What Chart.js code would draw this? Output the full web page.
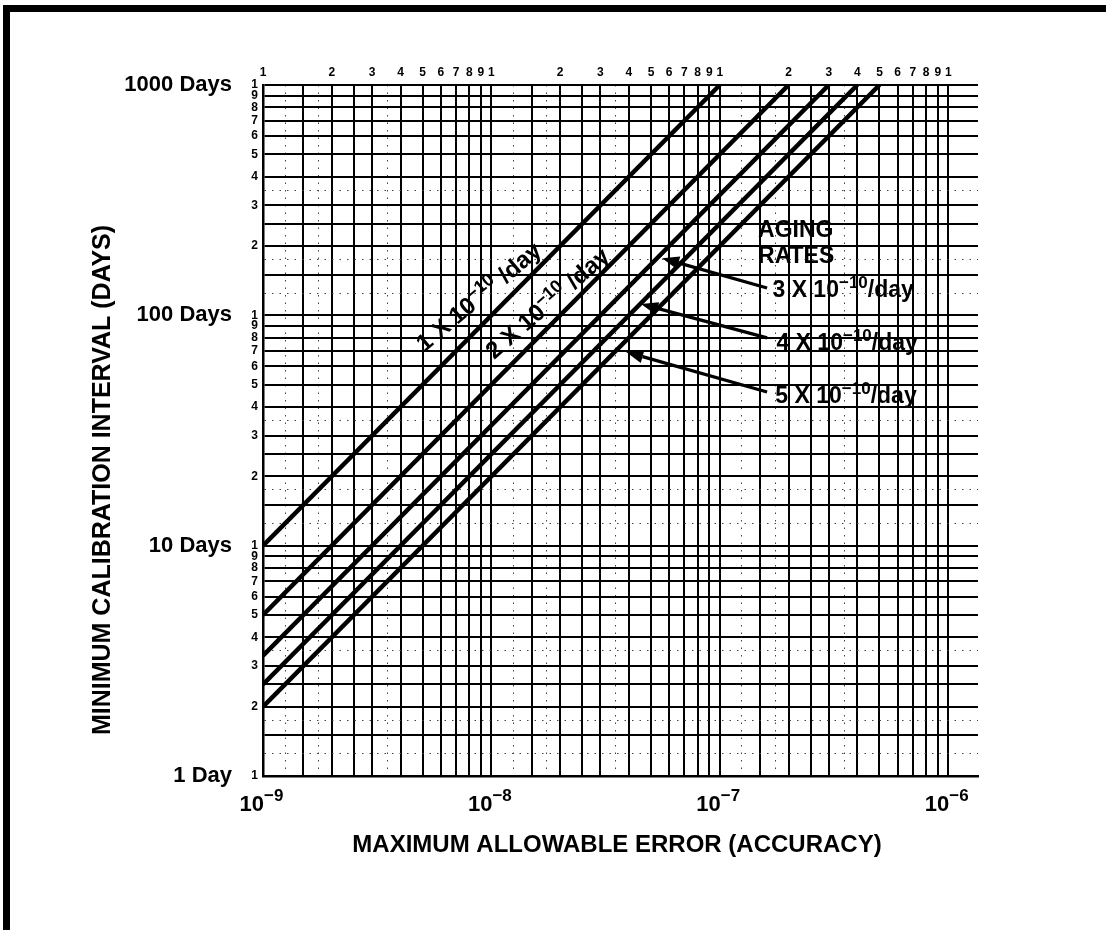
<!DOCTYPE html>
<html><head><meta charset="utf-8">
<script src="https://cdn.jsdelivr.net/npm/chart.js@4.4.1/dist/chart.umd.min.js"></script>
<style>
html,body{margin:0;padding:0;background:#fff;}
#wrap{position:relative;width:1106px;height:930px;overflow:hidden;background:#fff;}
#frameTop{position:absolute;left:3px;top:5px;width:1103px;height:7px;background:#000;}
#frameLeft{position:absolute;left:3px;top:5px;width:7px;height:925px;background:#000;}
canvas{position:absolute;left:0;top:0;}
</style></head><body>
<div id="wrap"><canvas id="c" width="1106" height="930"></canvas><div id="frameTop"></div><div id="frameLeft"></div></div>
<script>
const FONT = '"Liberation Sans", Arial, Helvetica, sans-serif';

// ---- data ----
const rateNames = ['1 X 10⁻¹⁰/day', '2 X 10⁻¹⁰/day', '3 X 10⁻¹⁰/day', '4 X 10⁻¹⁰/day', '5 X 10⁻¹⁰/day'];
const rate1Error = [1e-9, 1e-7];  const rate1Days = [10, 1000];
const rate2Error = [1e-9, 2e-7];  const rate2Days = [5, 1000];
const rate3Error = [1e-9, 3e-7];  const rate3Days = [3.33, 1000];
const rate4Error = [1e-9, 4e-7];  const rate4Days = [2.5, 1000];
const rate5Error = [1e-9, 5e-7];  const rate5Days = [2, 1000];

// ---- axes / ticks ----
const xDecades = [1e-9, 1e-8, 1e-7];
const xEnd = 1e-6;
const xAxisMin = 1e-9;
const xAxisMax = 1.35e-6;
const xDecadeExponents = ['−9', '−8', '−7', '−6'];
const yDecades = [1, 10, 100];
const yEnd = 1000;
const yDecadeLabels = ['1 Day', '10 Days', '100 Days', '1000 Days'];
const gridMultipliers = [1, 1.5, 2, 2.5, 3, 4, 5, 6, 7, 8, 9];
const dottedMultipliers = [1.25, 1.75, 3.5];
const xTitle = 'MAXIMUM ALLOWABLE ERROR (ACCURACY)';
const yTitle = 'MINIMUM CALIBRATION INTERVAL (DAYS)';

// ---- annotations (data coordinates) ----
const slopeLabelBase = ['1 X 10', '2 X 10'];
const slopeLabelAt = [[5.1e-9, 69], [1.03e-8, 64]];
const slopeLabelAngle = [-40, -41];
const agingTitle = ['AGING', 'RATES'];
const agingTitleAt = [[1.47e-7, 219], [1.47e-7, 169]];
const rateLabelBase = ['3 X 10', '4 X 10', '5 X 10'];
const rateLabelAt = [[1.70e-7, 120], [1.77e-7, 70.7], [1.75e-7, 41.6]];
const arrowTail = [[1.61e-7, 131.5], [1.61e-7, 79.8], [1.61e-7, 46.5]];
const arrowTip = [[5.59e-8, 177], [4.52e-8, 112], [3.89e-8, 69.3]];
const supText = '−10';

function mkTicks(decades, end) {
  const t = [];
  for (const d of decades) {
    for (const m of gridMultipliers) t.push({value: d * m, mult: m, dotted: false});
    for (const m of dottedMultipliers) t.push({value: d * m, mult: m, dotted: true});
  }
  t.push({value: end, mult: 1, dotted: false});
  t.sort((a, b) => a.value - b.value);
  return t;
}
const smallLabel = tk => (tk && !tk.dotted && Number.isInteger(tk.mult)) ? String(tk.mult) : '';
const gridWidth = c => (c.tick && c.tick.dotted) ? 1 : 2;
const gridColor = c => (c.tick && c.tick.dotted) ? '#444' : '#000';
const gridDash = c => (c.tick && c.tick.dotted) ? [1.5, 6] : [];

function series(xs, ys) { return xs.map((v, i) => ({x: v, y: ys[i]})); }
const allSeries = [[rate1Error, rate1Days], [rate2Error, rate2Days], [rate3Error, rate3Days], [rate4Error, rate4Days], [rate5Error, rate5Days]];

function drawParts(ctx, parts, x, y, f, fs, rise) {
  let cx = x;
  for (const p of parts) {
    ctx.font = 'bold ' + (p.sup ? fs : f) + 'px ' + FONT;
    ctx.fillText(p.t, cx, p.sup ? y - rise : y);
    cx += ctx.measureText(p.t).width;
  }
}
function arrow(ctx, x0, y0, x1, y1) {
  const a = Math.atan2(y1 - y0, x1 - x0), L = 17, W = 6.5;
  const bx = x1 - L * Math.cos(a), by = y1 - L * Math.sin(a);
  ctx.lineWidth = 3.2;
  ctx.beginPath(); ctx.moveTo(x0, y0); ctx.lineTo(bx, by); ctx.stroke();
  ctx.beginPath(); ctx.moveTo(x1, y1);
  ctx.lineTo(bx + W * Math.sin(a), by - W * Math.cos(a));
  ctx.lineTo(bx - W * Math.sin(a), by + W * Math.cos(a));
  ctx.closePath(); ctx.fill();
}

const annot = {
  id: 'annot',
  afterDraw(chart) {
    const {ctx, scales: {x, y}} = chart;
    const P = (p) => [x.getPixelForValue(p[0]), y.getPixelForValue(p[1])];
    ctx.save();
    ctx.fillStyle = '#000'; ctx.strokeStyle = '#000';
    ctx.textBaseline = 'alphabetic'; ctx.textAlign = 'left';
    slopeLabelBase.forEach((t, i) => {
      const [px, py] = P(slopeLabelAt[i]);
      ctx.save();
      ctx.translate(px, py);
      ctx.rotate(slopeLabelAngle[i] * Math.PI / 180);
      drawParts(ctx, [{t: t}, {t: supText, sup: true}, {t: ' /day'}], 0, 0, 24, 18, 9);
      ctx.restore();
    });
    agingTitle.forEach((t, i) => {
      const [px, py] = P(agingTitleAt[i]);
      ctx.font = 'bold 23px ' + FONT;
      ctx.fillText(t, px, py);
    });
    rateLabelBase.forEach((t, i) => {
      const [px, py] = P(rateLabelAt[i]);
      drawParts(ctx, [{t: t}, {t: supText, sup: true}, {t: '/day'}], px, py, 23, 17, 9);
      const [tx, ty] = P(arrowTail[i]);
      const [hx, hy] = P(arrowTip[i]);
      arrow(ctx, tx, ty, hx, hy);
    });
    [...xDecades, xEnd].forEach((v, i) => {
      const px = x.getPixelForValue(v);
      ctx.font = 'bold 22px ' + FONT;
      ctx.textAlign = 'right';
      ctx.fillText('10', px + 1, 811);
      ctx.textAlign = 'left';
      ctx.font = 'bold 17px ' + FONT;
      ctx.fillText(xDecadeExponents[i], px + 1, 801);
    });
    ctx.font = 'bold 24px ' + FONT;
    ctx.textAlign = 'center';
    ctx.textBaseline = 'middle';
    ctx.fillText(xTitle, 617, 845);
    ctx.save();
    ctx.translate(103, 480);
    ctx.rotate(-Math.PI / 2);
    ctx.font = 'bold 25px ' + FONT;
    ctx.fillText(yTitle, 0, 0);
    ctx.restore();
    ctx.restore();
  }
};

new Chart(document.getElementById('c'), {
  type: 'line',
  data: {
    datasets: allSeries.map((s, i) => ({
      label: rateNames[i],
      data: series(s[0], s[1]),
      borderColor: '#000', backgroundColor: '#000', borderWidth: 4.5,
      pointRadius: 0, tension: 0, fill: false, borderCapStyle: 'butt'
    }))
  },
  options: {
    responsive: false, animation: false, devicePixelRatio: 1,
    layout: {padding: {left: 0, right: 128, top: 45, bottom: 0}},
    plugins: {legend: {display: false}, tooltip: {enabled: false}},
    scales: {
      x: {
        type: 'logarithmic', position: 'bottom', min: xAxisMin, max: xAxisMax, bounds: 'data',
        afterBuildTicks: s => { s.ticks = mkTicks(xDecades, xEnd); },
        afterFit: s => { s.height = 154; },
        ticks: {display: false, autoSkip: false},
        grid: {color: gridColor, lineWidth: gridWidth, drawTicks: false},
        border: {display: true, color: '#000', width: 2.5, dash: gridDash}
      },
      x2: {
        type: 'logarithmic', position: 'top', min: xAxisMin, max: xAxisMax, bounds: 'data',
        afterBuildTicks: s => { s.ticks = mkTicks(xDecades, xEnd); },
        afterFit: s => { s.height = 40; },
        grid: {display: false, drawTicks: false},
        border: {display: false},
        ticks: {autoSkip: false, maxRotation: 0, minRotation: 0, padding: 5, color: '#000',
          font: {family: FONT, size: 12, weight: 'bold'},
          callback: (v, i, ts) => smallLabel(ts[i])}
      },
      y: {
        type: 'logarithmic', position: 'left', min: 1, max: 1000, bounds: 'data', weight: 0,
        afterBuildTicks: s => { s.ticks = mkTicks(yDecades, yEnd); },
        afterFit: s => { s.width = 27; },
        grid: {color: gridColor, lineWidth: gridWidth, drawTicks: false},
        border: {display: true, color: '#000', width: 2.5, dash: gridDash},
        ticks: {autoSkip: false, padding: 5, color: '#000',
          font: {family: FONT, size: 12, weight: 'bold'},
          callback: (v, i, ts) => smallLabel(ts[i])}
      },
      y2: {
        type: 'logarithmic', position: 'left', min: 1, max: 1000, bounds: 'data', weight: 1,
        afterBuildTicks: s => { s.ticks = mkTicks(yDecades, yEnd); },
        afterFit: s => { s.width = 236; },
        grid: {display: false, drawTicks: false},
        border: {display: false},
        ticks: {autoSkip: false, padding: 4, color: '#000',
          font: {family: FONT, size: 22, weight: 'bold'},
          callback: (v, i, ts) => {
            const tk = ts[i];
            if (!tk || tk.dotted || tk.mult !== 1) return '';
            return yDecadeLabels[Math.round(Math.log10(tk.value))];
          }}
      }
    }
  },
  plugins: [annot]
});
</script>
</body></html>
